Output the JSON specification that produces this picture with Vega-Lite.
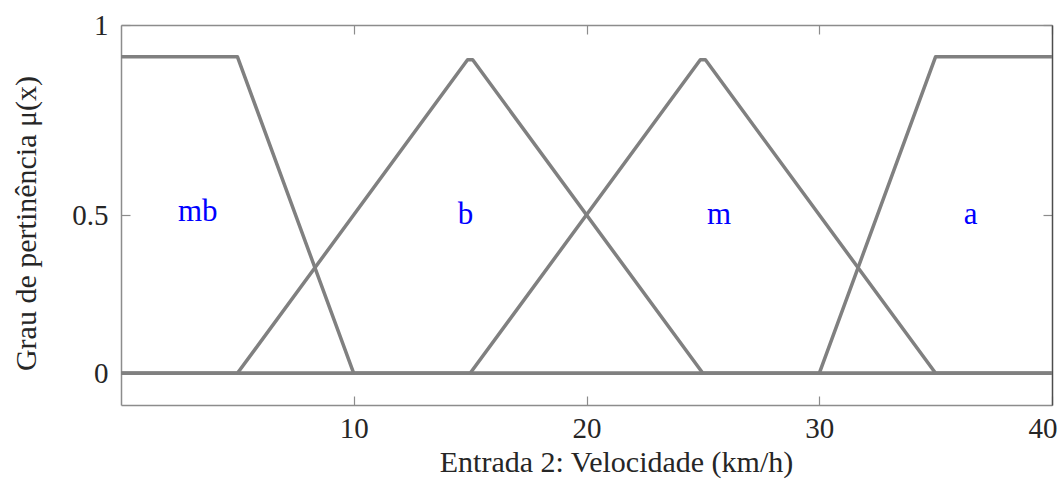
{
  "$schema": "https://vega.github.io/schema/vega-lite/v6.json",
  "width": 931,
  "height": 380,
  "autosize": {"type": "none"},
  "padding": {"left": 121, "top": 25, "right": 10, "bottom": 74},
  "background": "white",
  "config": {
    "view": {"stroke": null},
    "font": "Liberation Serif",
    "axis": {
      "grid": false,
      "domainColor": "#8c8c8c",
      "domainWidth": 1.5,
      "tickColor": "#8c8c8c",
      "tickWidth": 1.2,
      "tickSize": -9,
      "labelFont": "Liberation Serif",
      "labelFontSize": 29,
      "labelColor": "#262626",
      "titleFont": "Liberation Serif",
      "titleFontSize": 30,
      "titleFontWeight": "normal",
      "titleColor": "#262626"
    }
  },
  "datasets": {
    "mf": [
      {"fn": "mb", "i": 0, "x": 0, "mu": 1},
      {"fn": "mb", "i": 1, "x": 5, "mu": 1},
      {"fn": "mb", "i": 2, "x": 10, "mu": 0},
      {"fn": "mb", "i": 3, "x": 40, "mu": 0},
      {"fn": "b", "i": 0, "x": 0, "mu": 0},
      {"fn": "b", "i": 1, "x": 5, "mu": 0},
      {"fn": "b", "i": 2, "x": 14.89, "mu": 0.99},
      {"fn": "b", "i": 3, "x": 15.11, "mu": 0.99},
      {"fn": "b", "i": 4, "x": 25, "mu": 0},
      {"fn": "b", "i": 5, "x": 40, "mu": 0},
      {"fn": "m", "i": 0, "x": 0, "mu": 0},
      {"fn": "m", "i": 1, "x": 15, "mu": 0},
      {"fn": "m", "i": 2, "x": 24.89, "mu": 0.99},
      {"fn": "m", "i": 3, "x": 25.11, "mu": 0.99},
      {"fn": "m", "i": 4, "x": 35, "mu": 0},
      {"fn": "m", "i": 5, "x": 40, "mu": 0},
      {"fn": "a", "i": 0, "x": 0, "mu": 0},
      {"fn": "a", "i": 1, "x": 30, "mu": 0},
      {"fn": "a", "i": 2, "x": 35, "mu": 1},
      {"fn": "a", "i": 3, "x": 40, "mu": 1}
    ],
    "names": [
      {"fn": "mb", "x": 3.3, "mu": 0.51},
      {"fn": "b", "x": 14.8, "mu": 0.5},
      {"fn": "m", "x": 25.7, "mu": 0.5},
      {"fn": "a", "x": 36.5, "mu": 0.5}
    ]
  },
  "resolve": {"axis": {"x": "independent", "y": "independent"}},
  "layer": [
    {
      "data": {"name": "mf"},
      "mark": {"type": "line", "color": "#808080", "strokeWidth": 3.5, "strokeJoin": "round", "clip": true},
      "encoding": {
        "x": {
          "field": "x", "type": "quantitative",
          "scale": {"domain": [0, 40], "nice": false, "zero": false},
          "axis": {"orient": "bottom", "values": [10, 20, 30, 40], "title": "Entrada 2: Velocidade (km/h)", "labelPadding": 18, "titlePadding": 4, "titleX": 495, "titleAlign": "center", "labelFlush": true, "labelFlushOffset": 5}
        },
        "y": {
          "field": "mu", "type": "quantitative",
          "scale": {"domain": [-0.1, 1.1], "nice": false, "zero": false},
          "axis": {"orient": "left", "values": [0, 0.5, 1.1], "labelExpr": "datum.value > 1 ? '1' : datum.value == 0.5 ? '0.5' : '0'", "title": "Grau de pertinência μ(x)", "labelPadding": 22, "titlePadding": 30, "titleY": 198, "titleAlign": "center", "labelFlush": false}
        },
        "detail": {"field": "fn"},
        "order": {"field": "i"}
      }
    },
    {
      "data": {"name": "names"},
      "mark": {"type": "text", "color": "#0000ff", "fontSize": 31, "font": "Liberation Serif", "align": "center", "baseline": "middle"},
      "encoding": {
        "x": {
          "field": "x", "type": "quantitative",
          "axis": {"orient": "top", "values": [10, 20, 30, 40], "labels": false, "title": null}
        },
        "y": {
          "field": "mu", "type": "quantitative",
          "axis": {"orient": "right", "values": [0, 0.5, 1.1], "labels": false, "title": null, "domainColor": "#4d4d4d"}
        },
        "text": {"field": "fn"}
      }
    }
  ]
}
